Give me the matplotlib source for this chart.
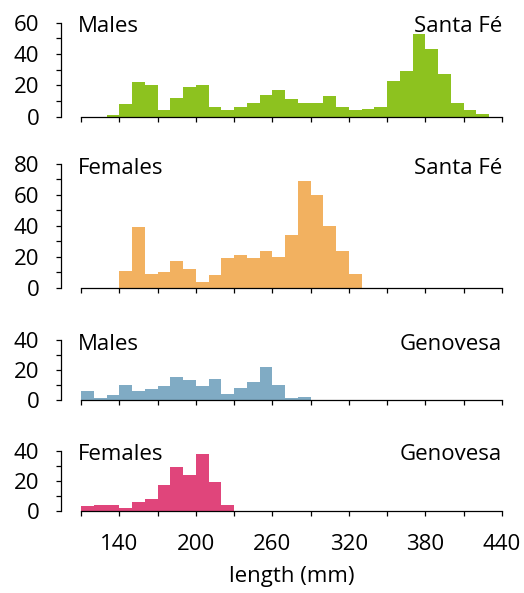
import numpy as np
import matplotlib
matplotlib.use("Agg")
import matplotlib.pyplot as plt

plt.rcParams["font.family"] = ["Open Sans", "DejaVu Sans"]

# 数据：每 10 mm 一个区间的个体数
bin_width = 10

males_sf_start = 130
males_sf = [1, 8, 22, 20, 4, 12, 19, 20, 6, 4, 6, 9, 14, 17, 11,
            9, 9, 13, 6, 4, 5, 6, 23, 29, 53, 43, 27, 9, 4, 2]

females_sf_start = 140
females_sf = [11, 39, 9, 10, 17, 12, 4, 8, 19, 21, 19, 24, 20, 34, 69,
              60, 40, 24, 9]

males_gen_start = 110
males_gen = [6, 1, 3, 10, 6, 7, 9, 15, 13, 9, 14, 4, 8, 12, 22, 10, 1, 2]

females_gen_start = 110
females_gen = [3, 4, 4, 2, 6, 8, 17, 29, 24, 38, 19, 4]

sex_labels = ["Males", "Females", "Males", "Females"]
island_labels = ["Santa Fé", "Santa Fé", "Genovesa", "Genovesa"]
y_max = [60, 80, 40, 40]
colors = ["#8dc21f", "#f2b160", "#80abc4", "#e0457b"]

x_ticks = np.arange(110, 441, 30)
x_labels = [str(t) if (t - 140) % 60 == 0 else "" for t in x_ticks]

fig = plt.figure(figsize=(5.24, 5.93), dpi=100)

# 各面板位置 [left, bottom, width, height]
positions = [
    [0.1546, 0.8032, 0.8034, 0.1585],
    [0.1546, 0.5148, 0.8034, 0.2086],
    [0.1546, 0.3255, 0.8034, 0.1012],
    [0.1546, 0.1383, 0.8034, 0.1017],
]

series = [
    (males_sf_start, males_sf),
    (females_sf_start, females_sf),
    (males_gen_start, males_gen),
    (females_gen_start, females_gen),
]

for i, (start, counts) in enumerate(series):
    ax = fig.add_axes(positions[i])
    lefts = start + bin_width * np.arange(len(counts))
    ax.bar(lefts, counts, width=bin_width, align="edge", color=colors[i], linewidth=0)

    ax.set_xlim(110, 440)
    ax.set_ylim(0, y_max[i])

    # 坐标轴样式
    for s in ["top", "right"]:
        ax.spines[s].set_visible(False)
    ax.spines["left"].set_position(("outward", 14.5))
    ax.spines["left"].set_linewidth(0.9)
    ax.spines["bottom"].set_linewidth(0.9)

    yt = np.arange(0, y_max[i] + 1, 10)
    ax.set_yticks(yt)
    ax.set_yticklabels([str(t) if t % 20 == 0 else "" for t in yt])
    ax.set_xticks(x_ticks)
    if i == 3:
        ax.set_xticklabels(x_labels)
        ax.set_xlabel("length (mm)", fontsize=16, labelpad=8)
    else:
        ax.set_xticklabels([])
    ax.tick_params(axis="y", direction="out", length=3.5, width=0.9, pad=12, labelsize=16)
    ax.tick_params(axis="x", direction="out", length=3.5, width=0.9, pad=13, labelsize=16)

    # 面板标题
    ax.annotate(sex_labels[i], xy=(0, 1), xycoords="axes fraction", xytext=(-2, -3),
                textcoords="offset points", ha="left", va="center", fontsize=16)
    ax.annotate(island_labels[i], xy=(1, 1), xycoords="axes fraction", xytext=(0, -3),
                textcoords="offset points", ha="right", va="center", fontsize=16)

fig.savefig("out.png", dpi=100)
